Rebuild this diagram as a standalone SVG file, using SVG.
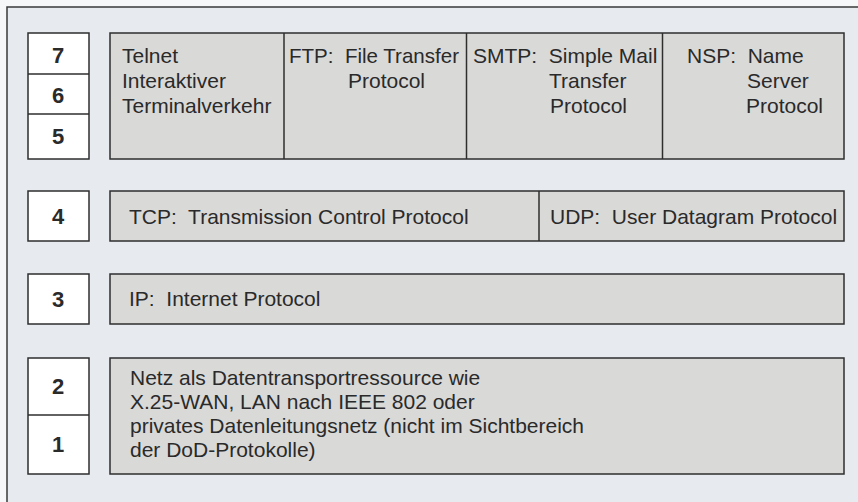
<svg xmlns="http://www.w3.org/2000/svg" width="858" height="502" viewBox="0 0 858 502">
<style>
.num{fill:#ffffff;stroke:#2e2e2e;stroke-width:1.5}
.box{fill:#d9d9d8;stroke:#2e2e2e;stroke-width:1.5}
.div{stroke:#2e2e2e;stroke-width:1.5;fill:none}
.d{font-family:"Liberation Sans",Arial,sans-serif;font-weight:bold;font-size:22px;fill:#2a2a2a;text-anchor:middle}
.t{font-family:"Liberation Sans",Arial,sans-serif;font-size:21px;fill:#2a2a2a;white-space:pre}
</style>
<rect x="0" y="0" width="858" height="502" fill="#f6f7f8"/>
<rect x="7" y="7" width="870" height="520" fill="#e7ebef" stroke="#3a3a3a" stroke-width="1.5"/>

<g id="layers765">
<rect class="num" x="28" y="33" width="61" height="126"/>
<line class="div" x1="28" y1="74" x2="89" y2="74"/>
<line class="div" x1="28" y1="114" x2="89" y2="114"/>
<text class="d" x="58" y="63">7</text>
<text class="d" x="58" y="103">6</text>
<text class="d" x="58" y="144">5</text>
</g>
<g id="application">
<rect class="box" x="110" y="33" width="734" height="126"/>
<line class="div" x1="284" y1="33" x2="284" y2="159"/>
<line class="div" x1="466.5" y1="33" x2="466.5" y2="159"/>
<line class="div" x1="662.5" y1="33" x2="662.5" y2="159"/>
<g id="telnet">
<text class="t" x="122" y="63">Telnet</text>
<text class="t" x="122" y="88">Interaktiver</text>
<text class="t" x="122" y="113">Terminalverkehr</text>
</g>
<g id="ftp">
<text class="t" x="289" y="63" xml:space="preserve" textLength="170" lengthAdjust="spacingAndGlyphs">FTP:  File Transfer</text>
<text class="t" x="348" y="88">Protocol</text>
</g>
<g id="smtp">
<text class="t" x="473" y="63" xml:space="preserve">SMTP:  Simple Mail</text>
<text class="t" x="549" y="88">Transfer</text>
<text class="t" x="550" y="113">Protocol</text>
</g>
<g id="nsp">
<text class="t" x="687" y="63" xml:space="preserve">NSP:  Name</text>
<text class="t" x="747" y="88">Server</text>
<text class="t" x="746" y="113">Protocol</text>
</g>
</g>

<g id="layer4">
<rect class="num" x="28" y="191" width="61" height="50"/>
<text class="d" x="58" y="224">4</text>
</g>
<g id="transport">
<rect class="box" x="110" y="191" width="734" height="50"/>
<line class="div" x1="539" y1="191" x2="539" y2="241"/>
<text class="t" x="129" y="224" xml:space="preserve">TCP:  Transmission Control Protocol</text>
<text class="t" x="550" y="224" xml:space="preserve">UDP:  User Datagram Protocol</text>
</g>

<g id="layer3">
<rect class="num" x="28" y="274" width="61" height="50"/>
<text class="d" x="58" y="307">3</text>
</g>
<g id="internet">
<rect class="box" x="110" y="274" width="734" height="50"/>
<text class="t" x="129" y="306" xml:space="preserve">IP:  Internet Protocol</text>
</g>

<g id="layers21">
<rect class="num" x="28" y="358" width="61" height="116"/>
<line class="div" x1="28" y1="415" x2="89" y2="415"/>
<text class="d" x="58" y="394">2</text>
<text class="d" x="58" y="452">1</text>
</g>
<g id="network">
<rect class="box" x="110" y="358" width="734" height="116"/>
<text class="t" x="130" y="385">Netz als Datentransportressource wie</text>
<text class="t" x="130" y="409">X.25-WAN, LAN nach IEEE 802 oder</text>
<text class="t" x="130" y="433">privates Datenleitungsnetz (nicht im Sichtbereich</text>
<text class="t" x="130" y="457">der DoD-Protokolle)</text>
</g>
<g id="connectors"/>
</svg>
